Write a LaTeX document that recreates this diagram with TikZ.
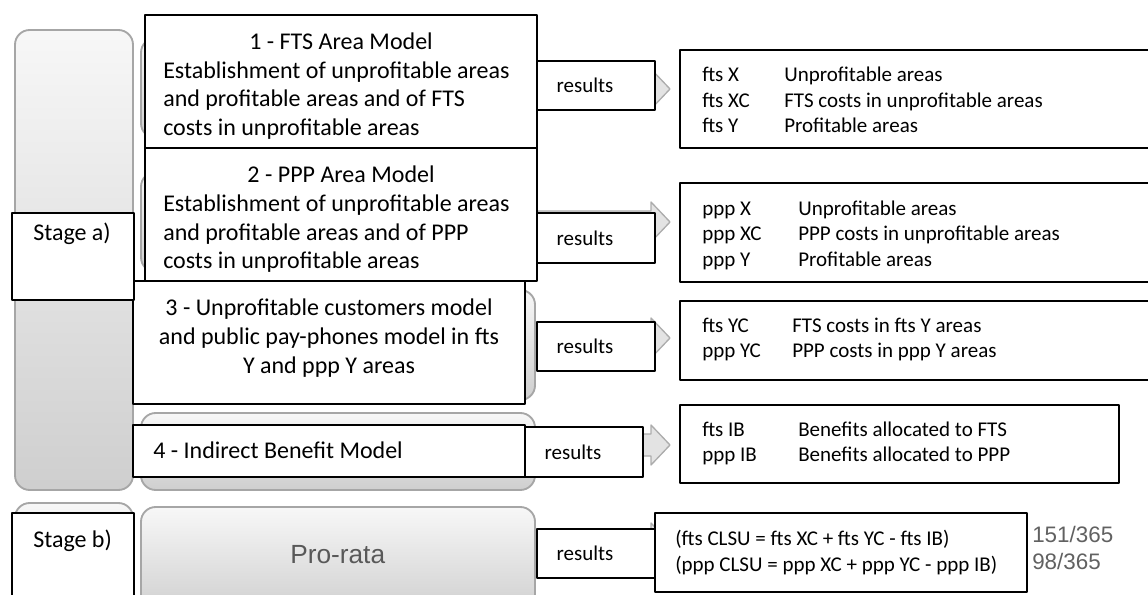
\documentclass[tikz,border=0pt]{standalone}
\usepackage{fontspec}
\setmainfont{Carlito}
\newfontfamily\slidefont{Liberation Sans}
\usetikzlibrary{calc,fit}

\begin{document}
\begin{tikzpicture}[x=0.75pt, y=-0.75pt, line join=round,
  slide/.style={draw=gray!70, line width=1.4pt, rounded corners=11pt, top color=gray!6, bottom color=gray!38, inner sep=0pt},
  box/.style={draw=black, fill=white, line width=1.1pt, inner sep=0pt},
  chev/.style={draw=gray!65, fill=gray!22, line width=1pt},
  mtext/.style={font=\fontsize{18}{21.4}\selectfont, inner sep=0pt},
  rtext/.style={font=\fontsize{15.75}{19}\selectfont, inner sep=0pt},
  numtext/.style={font=\slidefont\fontsize{16.8}{20}\selectfont, text=black!62, inner sep=0pt}]
  \useasboundingbox (0,0) rectangle (1148,595);
  \clip (0,0) rectangle (1148,595);

  % slide shapes in the background
  \node[slide, fit={(15,30) (133,490)}] (sA) {};
  \node[slide, fit={(15,503) (133,615)}] (sB) {};
  \node[slide, fit={(141,38) (535,138)}] (g1) {};
  \node[slide, fit={(141,172) (535,272)}] (g2) {};
  \node[slide, fit={(141,290) (535,400)}] (g3) {};
  \node[slide, fit={(141,413) (535,490)}] (g4) {};
  \node[slide, fit={(141,507) (535,615)}] (gp) {};
  \node[font=\slidefont\fontsize{19.7}{22}\selectfont, text=black!65, inner sep=0pt, anchor=base west] (prorata) at (290,563) {Pro-rata};

  % block arrows from the slide rows
  \coordinate (tip) at (670,0);
  \foreach \g/\y in {g1/89,g2/222,g3/338,g4/445,gp/543}{
    \path (\g.east |- 0,\y) coordinate (a0) (tip |- 0,\y) coordinate (a1);
    \draw[chev] ($(a0)+(2,-11)$) -- ($(a1)+(-19,-11)$) -- ($(a1)+(-19,-20)$)
      -- (a1) -- ($(a1)+(-19,20)$) -- ($(a1)+(-19,11)$) -- ($(a0)+(2,11)$) -- cycle;
  }

  % result boxes on the right
  \node[box, fit={(680,50) (1160,148)}] (t1) {};
  \node[box, fit={(680,183) (1160,282)}] (t2) {};
  \node[box, fit={(680,301) (1160,380)}] (t3) {};
  \node[box, fit={(680,405) (1119,483)}] (t4) {};
  \node[box, fit={(655,513) (1027,592)}] (tf) {};

  % model boxes
  \node[box, fit={(145,15) (537,148)}] (m1) {};
  \node[box, fit={(145,148) (537,281)}] (m2) {};
  \node[box, fit={(133,281) (525,404)}] (m3) {};
  \node[box, fit={(133,425) (525,477)}] (m4) {};

  \node[mtext, anchor=base] (m1h) at (m1.north |- 0,50) {1 - FTS Area Model};
  \foreach \y/\txt [count=\i] in {78.5/Establishment of unprofitable areas,107/and profitable areas and of FTS,135.5/costs in unprofitable areas}
    \node[mtext, anchor=base west] (m1l\i) at (163,\y) {\txt};
  \node[mtext, anchor=base] (m2h) at (m2.north |- 0,183) {2 - PPP Area Model};
  \foreach \y/\txt [count=\i] in {211.5/Establishment of unprofitable areas,240/and profitable areas and of PPP,268.5/costs in unprofitable areas}
    \node[mtext, anchor=base west] (m2l\i) at (163,\y) {\txt};
  \foreach \y/\txt [count=\i] in {315/3 - Unprofitable customers model,344/and public pay-phones model in fts,373/Y and ppp Y areas}
    \node[mtext, anchor=base] (m3l\i) at (m3.north |- 0,\y) {\txt};
  \node[mtext, anchor=base west] (m4l) at (153,458) {4 - Indirect Benefit Model};

  % "results" tags
  \node[box, fit={(537,61) (655,110)}] (rs1) {};
  \node[box, fit={(537,213) (655,263)}] (rs2) {};
  \node[box, fit={(537,322) (655,371)}] (rs3) {};
  \node[box, fit={(525,427) (643,477)}] (rs4) {};
  \node[box, fit={(537,529) (655,578)}] (rs5) {};
  \foreach \r in {rs1,rs2,rs3,rs4,rs5}
    \node[rtext, anchor=west] (\r t) at ($(\r.west)+(20,0)$) {results};

  % stage labels
  \node[box, fit={(12,213) (134,300)}] (sa) {};
  \node[mtext, anchor=base west] (sat) at (33,240) {Stage a)};
  \node[box, fit={(12,513) (134,610)}] (sb) {};
  \node[mtext, anchor=base west] (sbt) at (33,547) {Stage b)};

  % result texts
  \foreach \y/\lab/\desc [count=\i] in {82/fts X/Unprofitable areas,107.5/fts XC/FTS costs in unprofitable areas,133/fts Y/Profitable areas}{
    \node[rtext, anchor=base west] (t1a\i) at (702,\y) {\lab};
    \node[rtext, anchor=base west] (t1b\i) at (784,\y) {\desc};
  }
  \foreach \y/\lab/\desc [count=\i] in {215/ppp X/Unprofitable areas,241/ppp XC/PPP costs in unprofitable areas,266/ppp Y/Profitable areas}{
    \node[rtext, anchor=base west] (t2a\i) at (702,\y) {\lab};
    \node[rtext, anchor=base west] (t2b\i) at (798,\y) {\desc};
  }
  \foreach \y/\lab/\desc [count=\i] in {332/fts YC/FTS costs in fts Y areas,357/ppp YC/PPP costs in ppp Y areas}{
    \node[rtext, anchor=base west] (t3a\i) at (702,\y) {\lab};
    \node[rtext, anchor=base west] (t3b\i) at (792,\y) {\desc};
  }
  \foreach \y/\lab/\desc [count=\i] in {436/fts IB/Benefits allocated to FTS,461/ppp IB/Benefits allocated to PPP}{
    \node[rtext, anchor=base west] (t4a\i) at (702,\y) {\lab};
    \node[rtext, anchor=base west] (t4b\i) at (798,\y) {\desc};
  }
  \node[rtext, anchor=base west] (tf1) at (675,545) {(fts CLSU = fts XC + fts YC - fts IB)};
  \node[rtext, anchor=base west] (tf2) at (675,571) {(ppp CLSU = ppp XC + ppp YC - ppp IB)};
  \node[numtext, anchor=base west] (n1) at (1032,542) {151/365};
  \node[numtext, anchor=base west] (n2) at (1032,569) {98/365};
\end{tikzpicture}
\end{document}
